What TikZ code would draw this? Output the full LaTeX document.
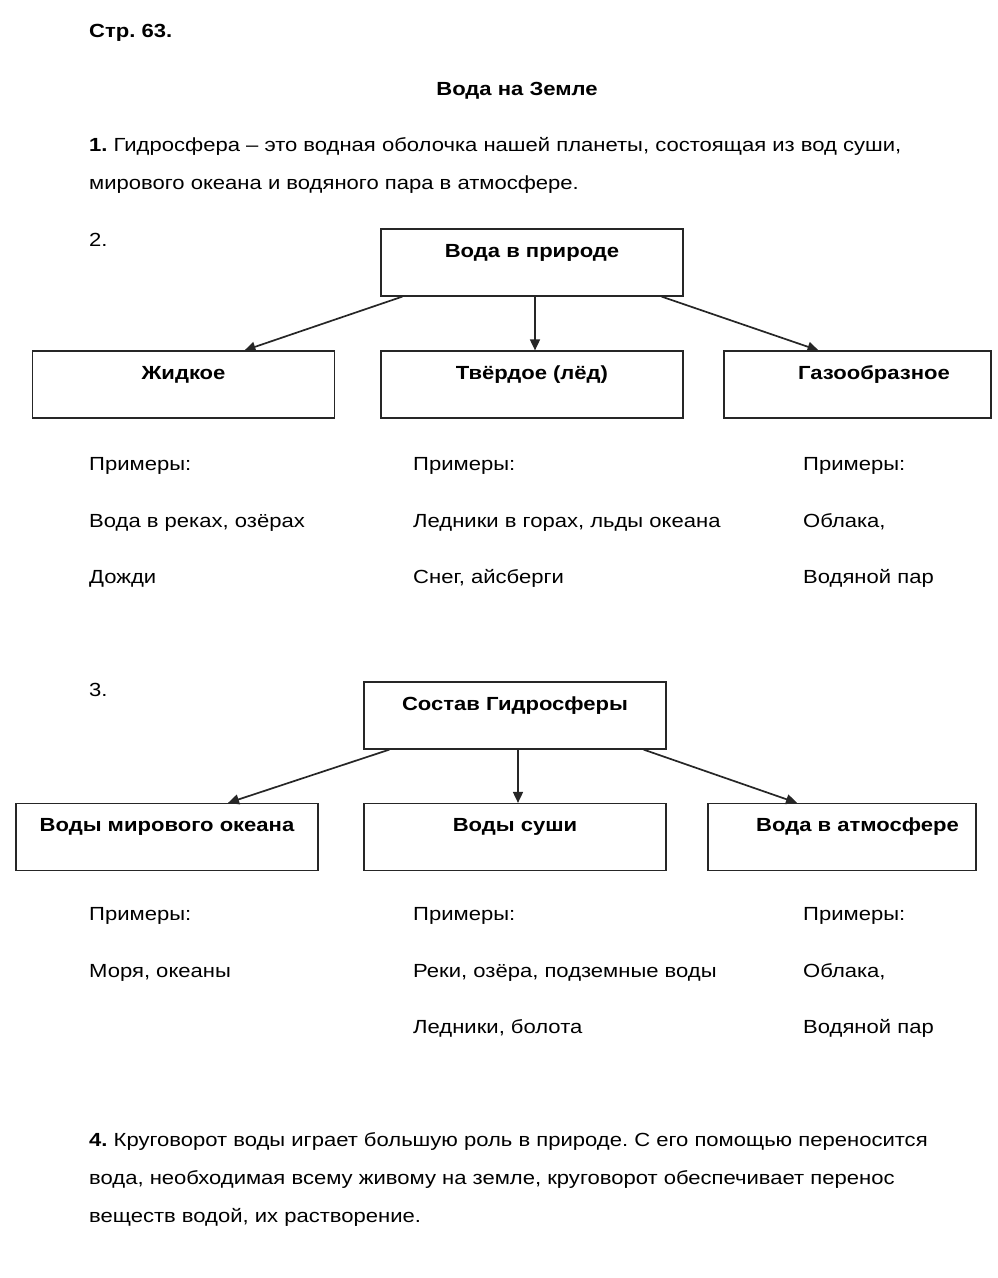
\documentclass[tikz,border=0pt]{standalone}
\usepackage{fontspec}
\setmainfont{Liberation Sans}[FakeStretch=1.16]
\usetikzlibrary{positioning,arrows.meta,calc}
\frenchspacing

\begin{document}
\begin{tikzpicture}[x=1pt, y=-1pt,
  txt/.style={anchor=base west, inner sep=0pt, font=\fontsize{19}{23}\selectfont},
  head/.style={txt, font=\fontsize{19}{23}\selectfont\bfseries},
  box/.style={draw=black!85, line width=1.2pt, minimum width=302pt,
              minimum height=67pt, inner sep=0pt, text height=28pt,
              text depth=39pt, font=\fontsize{19}{23}\selectfont\bfseries},
  link/.style={-{Triangle[length=11pt, width=10pt]}, line width=1.7pt, black!85},
]
\useasboundingbox (0,0) rectangle (998,1278);

% ---- page heading ----
\node[head] (page) at (89,37) {Стр. 63.};
\node[head, anchor=base] (title) at (517,95) {Вода на Земле};

% ---- task 1 ----
\node[txt] (t1a) at (89,151)
  {\textbf{1.} Гидросфера – это водная оболочка нашей планеты, состоящая из вод суши,};
\node[txt] (t1b) at (89,189) {мирового океана и водяного пара в атмосфере.};

% ---- task 2: states of water ----
\node[txt] (n2) at (89,246) {2.};
\node[box] (nat) at (532,262.5) {Вода в природе};
\node[box] (liq) at (183.5,384.5) {Жидкое};
\node[box] (sol) at (532,384.5) {Твёрдое (лёд)};
\node[box, minimum width=267pt] (gas) at (857.5,384.5) {\hspace*{33pt}Газообразное};

\draw[link] ($(nat.south west)+(22,0)$) -- ($(liq.north)+(61,0)$);
\draw[link] ($(nat.south)+(3,0)$) -- ($(sol.north)+(3,0)$);
\draw[link] ($(nat.south east)+(-22,0)$) -- ($(gas.north)+(-39,0)$);

\foreach \col/\x/\a/\b in {
    c1/89/{Вода в реках, озёрах}/{Дожди},
    c2/413/{Ледники в горах, льды океана}/{Снег, айсберги},
    c3/803/{Облака,}/{Водяной пар}} {
  \node[txt] (ex\col) at (\x,470) {Примеры:};
  \node[txt] (ea\col) at (\x,527) {\a};
  \node[txt] (eb\col) at (\x,583) {\b};
}

% ---- task 3: parts of the hydrosphere ----
\node[txt] (n3) at (89,696) {3.};
\node[box] (hyd) at (515,715.5) {Состав Гидросферы};
\node[box] (ocn) at (167,837) {Воды мирового океана};
\node[box] (lnd) at (515,837) {Воды суши};
\node[box, minimum width=268pt] (atm) at (842,837) {\hspace*{31pt}Вода в атмосфере};

\draw[link] ($(hyd.south west)+(26,0)$) -- ($(ocn.north)+(61,0)$);
\draw[link] ($(hyd.south)+(3,0)$) -- ($(lnd.north)+(3,0)$);
\draw[link] ($(hyd.south east)+(-23,0)$) -- ($(atm.north)+(-45,0)$);

\foreach \col/\x/\a/\b in {
    c1/89/{Моря, океаны}/{},
    c2/413/{Реки, озёра, подземные воды}/{Ледники, болота},
    c3/803/{Облака,}/{Водяной пар}} {
  \node[txt] (fx\col) at (\x,920) {Примеры:};
  \node[txt] (fa\col) at (\x,977) {\a};
  \node[txt] (fb\col) at (\x,1033) {\b};
}

% ---- task 4 ----
\node[txt] (t4a) at (89,1146)
  {\textbf{4.} Круговорот воды играет большую роль в природе. С его помощью переносится};
\node[txt] (t4b) at (89,1184)
  {вода, необходимая всему живому на земле, круговорот обеспечивает перенос};
\node[txt] (t4c) at (89,1222) {веществ водой, их растворение.};

\end{tikzpicture}
\end{document}
